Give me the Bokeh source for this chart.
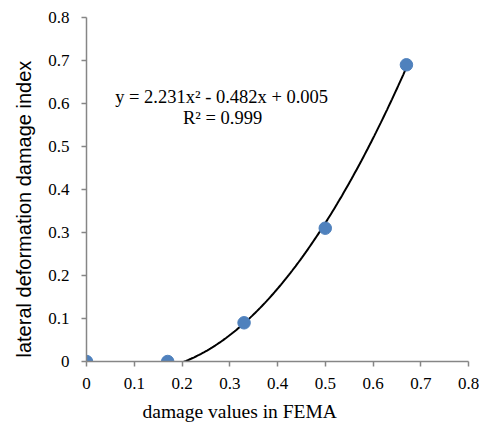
import numpy as np
from bokeh.plotting import figure
from bokeh.models import Label, FixedTicker, Range1d, Title
from bokeh.embed import file_html
from bokeh.resources import INLINE

# data
fema_values = [0.0, 0.17, 0.33, 0.50, 0.67]
damage_index = [0.0, 0.0, 0.09, 0.31, 0.69]
# trendline coefficients shown on the chart
coef_a, coef_b, coef_c = 2.231, -0.482, 0.005
x_ticks = [0, 0.1, 0.2, 0.3, 0.4, 0.5, 0.6, 0.7, 0.8]
y_ticks = [0, 0.1, 0.2, 0.3, 0.4, 0.5, 0.6, 0.7, 0.8]
tick_labels = ["0", "0.1", "0.2", "0.3", "0.4", "0.5", "0.6", "0.7", "0.8"]
eq_text = "y = 2.231x\u00b2 - 0.482x + 0.005"
r2_text = "R\u00b2 = 0.999"
x_title = "damage values in FEMA"
y_title = "lateral deformation damage index"

p = figure(width=479, height=432, output_backend="svg", toolbar_location=None,
           x_range=Range1d(0, 0.8), y_range=Range1d(0, 0.8),
           min_border_left=86, min_border_right=11, min_border_top=17, min_border_bottom=71)
p.outline_line_color = None
p.grid.grid_line_color = None
p.background_fill_color = "white"

# trendline
xs = np.linspace(0, max(fema_values), 200)
ys = coef_a * xs**2 + coef_b * xs + coef_c
p.line(xs, ys, line_color="black", line_width=2)

p.scatter(fema_values, damage_index, size=12.5, fill_color="#4F81BD", line_color="#4F81BD")

for ax in (p.xaxis, p.yaxis):
    ax.axis_line_color = "#868686"
    ax.axis_line_width = 1.5
    ax.major_tick_line_color = "#868686"
    ax.major_tick_line_width = 1.5
    ax.major_tick_in = 0
    ax.major_tick_out = 5
    ax.minor_tick_line_color = None
    ax.major_label_text_font = "Liberation Serif"
    ax.major_label_text_font_size = "17px"
    ax.major_label_text_color = "black"

p.xaxis.ticker = FixedTicker(ticks=x_ticks)
p.yaxis.ticker = FixedTicker(ticks=y_ticks)
p.xaxis.major_label_overrides = dict(zip(x_ticks, tick_labels))
p.yaxis.major_label_overrides = dict(zip(y_ticks, tick_labels))
p.xaxis.major_label_standoff = 11
p.yaxis.major_label_standoff = 12

# axis titles as Titles (they sit off-centre in the reference)
p.add_layout(Title(text=x_title, align="left", offset=56, vertical_align="bottom", standoff=15,
                   text_font="Liberation Serif", text_font_size="19.5px",
                   text_font_style="normal", text_color="black"), "below")
p.add_layout(Title(text=y_title, align="left", offset=4, vertical_align="bottom", standoff=21,
                   text_font="Liberation Sans", text_font_size="20px",
                   text_font_style="normal", text_color="black"), "left")

p.add_layout(Label(x=0.283, y=0.614, text=eq_text, text_align="center", text_baseline="middle",
                   text_font="Liberation Serif", text_font_size="18.5px", text_color="black"))
p.add_layout(Label(x=0.285, y=0.567, text=r2_text, text_align="center", text_baseline="middle",
                   text_font="Liberation Serif", text_font_size="18.5px", text_color="black"))

open("out.html", "w").write(file_html(p, INLINE))
